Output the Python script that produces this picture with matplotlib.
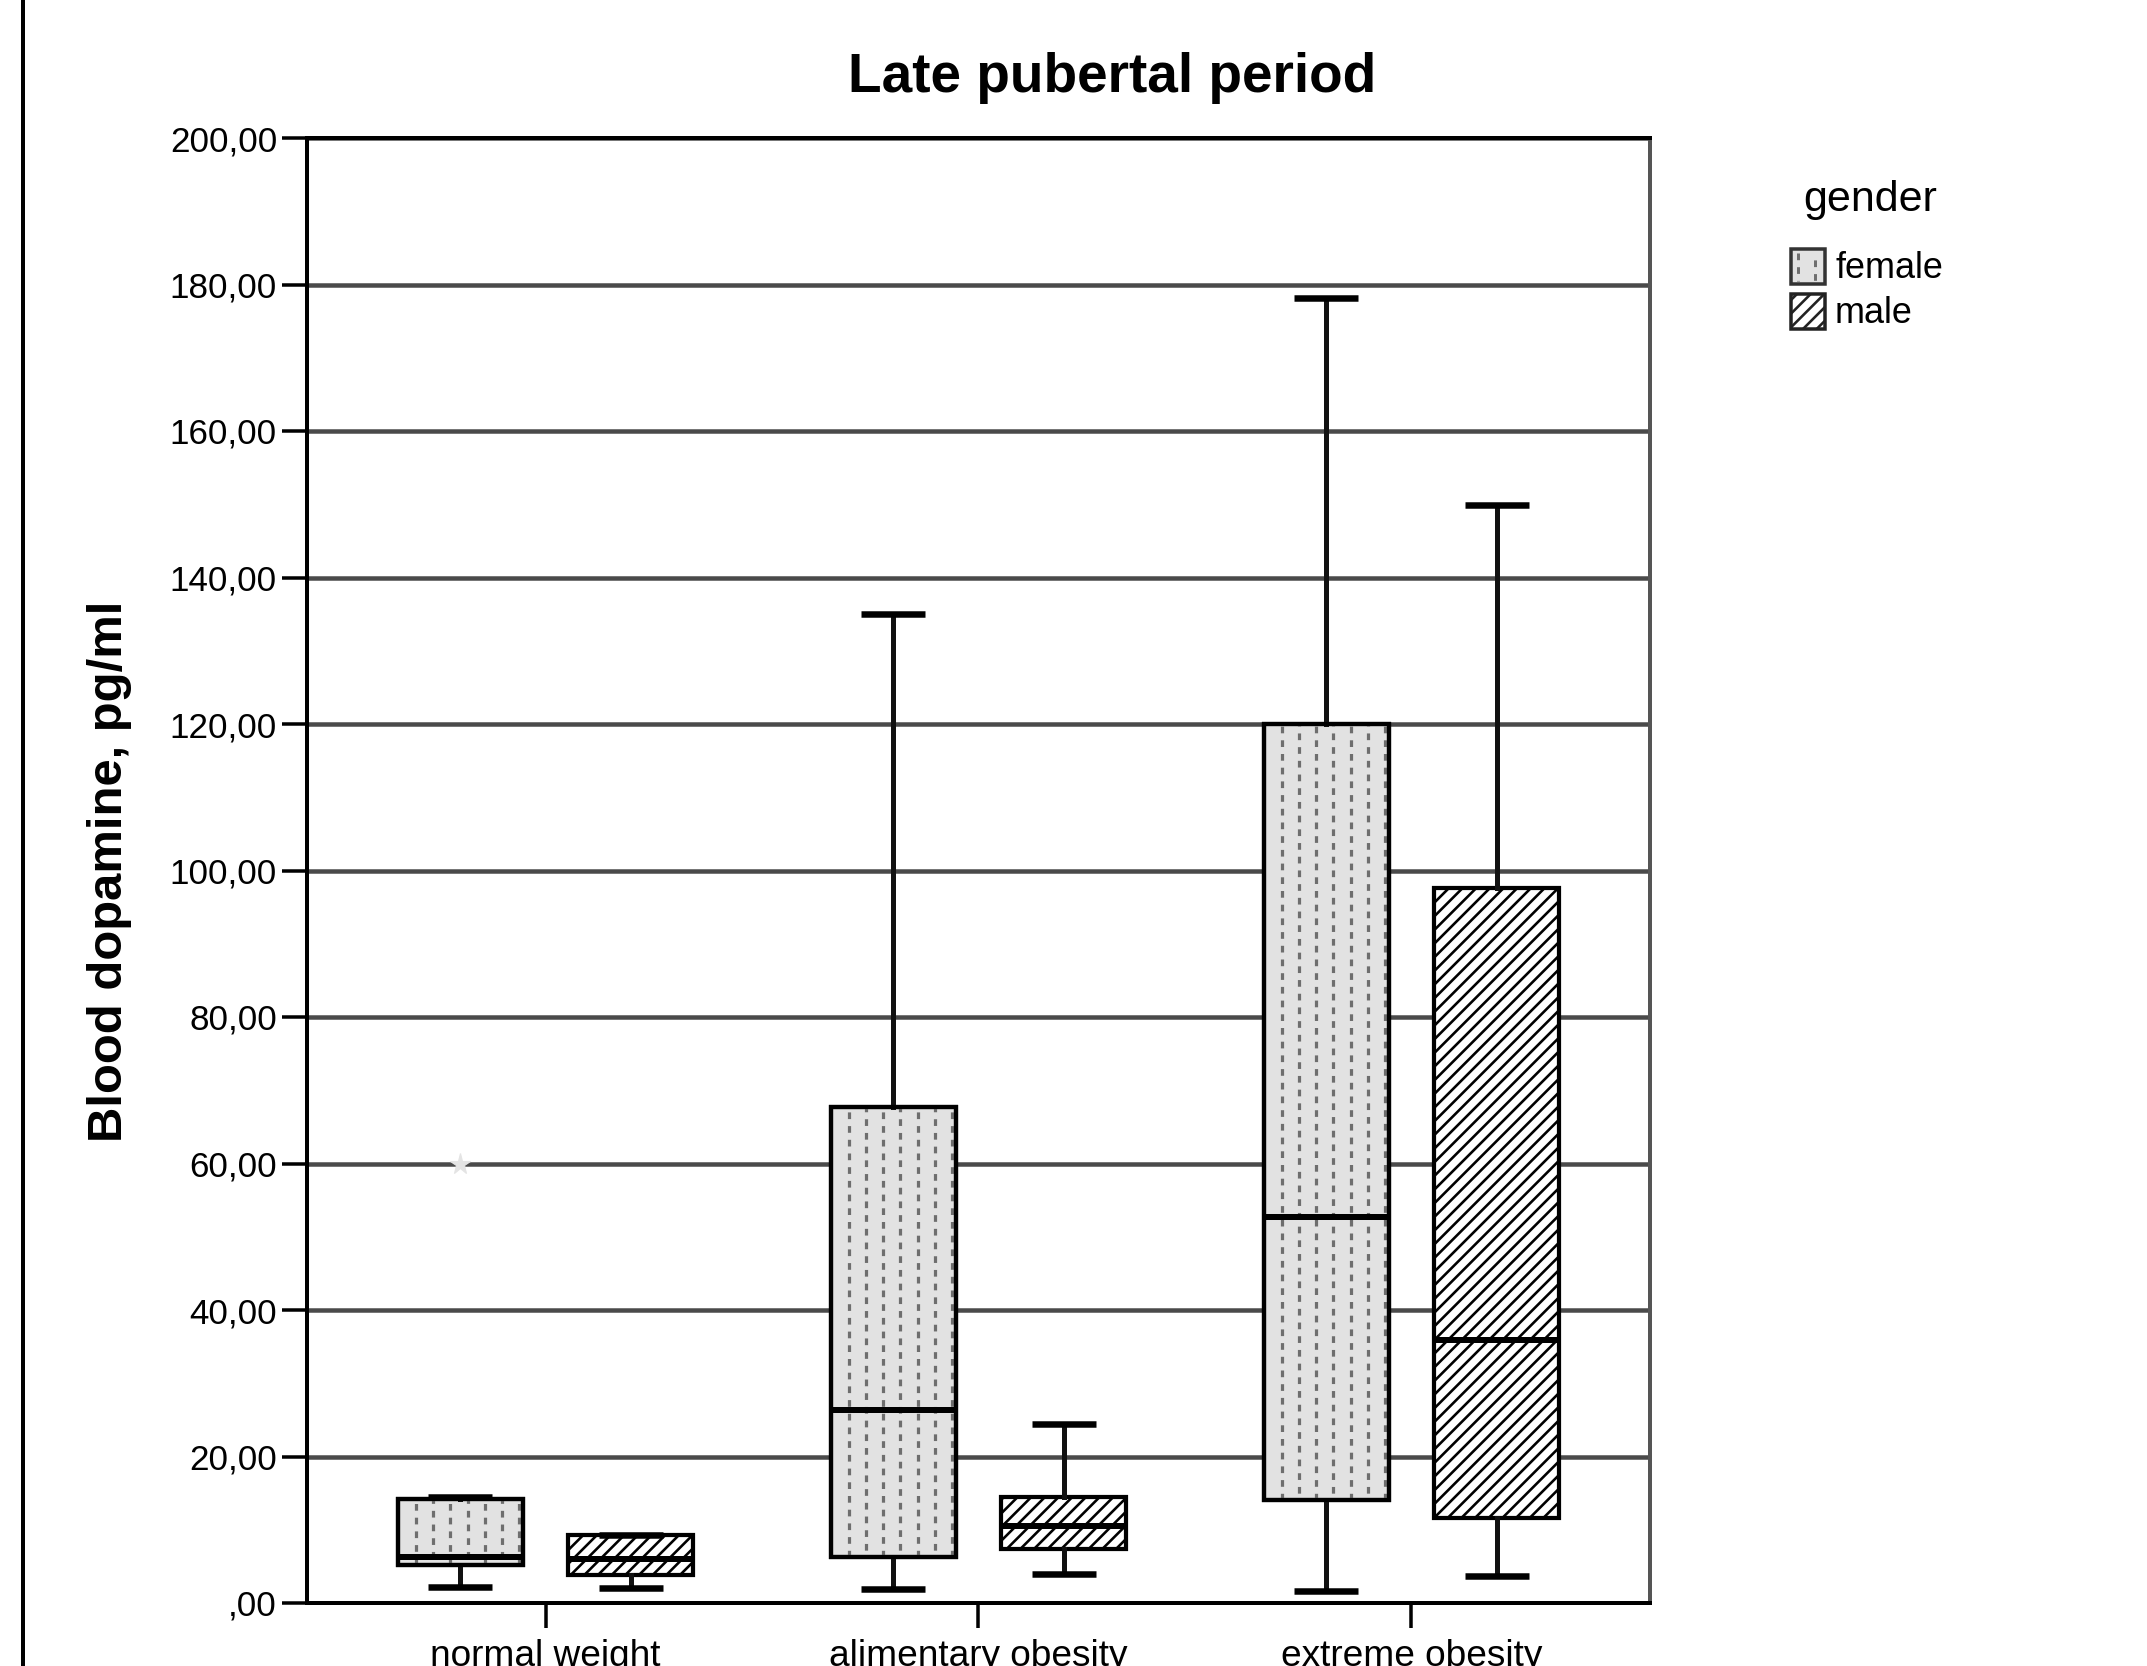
import matplotlib
matplotlib.use('Agg')
import matplotlib.pyplot as plt
from matplotlib.patches import Rectangle, PathPatch
import numpy as np

# ---------------- data ----------------
categories = ['normal weight', 'alimentary obesity', 'extreme obesity']
female_whislo = [2.2, 1.95, 1.7]
female_q1 = [5.2, 6.3, 14.0]
female_med = [6.3, 26.3, 52.7]
female_q3 = [14.2, 67.7, 120.0]
female_whishi = [14.5, 135.0, 178.1]
female_outliers = [[60.0], [], []]
male_whislo = [2.1, 4.0, 3.7]
male_q1 = [3.8, 7.4, 11.6]
male_med = [6.0, 10.5, 35.9]
male_q3 = [9.3, 14.5, 97.6]
male_whishi = [9.3, 24.5, 149.9]
male_outliers = [[], [], []]
yticks = [0, 20, 40, 60, 80, 100, 120, 140, 160, 180, 200]
ytick_labels = [',00', '20,00', '40,00', '60,00', '80,00', '100,00',
                '120,00', '140,00', '160,00', '180,00', '200,00']
legend_title = 'gender'
legend_labels = ['female', 'male']

# ---------------- figure setup ----------------
W, H = 2147, 1666
DPI = 82


def pt(px):
    return px * 72.0 / DPI


plt.rcParams['font.family'] = ['Liberation Sans', 'DejaVu Sans']
plt.rcParams['hatch.linewidth'] = pt(2.6)
plt.rcParams['lines.scale_dashes'] = False

fig = plt.figure(figsize=(W / DPI, H / DPI), dpi=DPI)
fig.patch.set_facecolor('white')

ax = fig.add_axes([307 / W, 1 - 1603 / H, (1650 - 307) / W, (1603 - 138) / H])

OFF = 0.197
BW = 0.289
CAPW = 0.148
xs = np.arange(len(categories))


def make_stats(lo, q1, med, q3, hi, fl):
    return [dict(whislo=a, q1=b, med=c, q3=d, whishi=e, fliers=f)
            for a, b, c, d, e, f in zip(lo, q1, med, q3, hi, fl)]


common = dict(widths=BW, capwidths=CAPW, patch_artist=True, showfliers=True,
              medianprops=dict(color='black', linewidth=pt(6), zorder=6,
                               solid_capstyle='butt'),
              whiskerprops=dict(color='#111111', linewidth=pt(5)),
              capprops=dict(color='black', linewidth=pt(6.5),
                            solid_capstyle='butt'),
              flierprops=dict(marker='*', markerfacecolor='#e4e4e4',
                              markeredgecolor='#e4e4e4', markersize=pt(22)),
              zorder=3)

fstats = make_stats(female_whislo, female_q1, female_med, female_q3,
                    female_whishi, female_outliers)
mstats = make_stats(male_whislo, male_q1, male_med, male_q3,
                    male_whishi, male_outliers)

fb = ax.bxp(fstats, positions=xs - OFF,
            boxprops=dict(facecolor='#e2e2e2', edgecolor='black',
                          linewidth=pt(4.2)), **common)
mb = ax.bxp(mstats, positions=xs + OFF,
            boxprops=dict(facecolor='white', edgecolor='black',
                          linewidth=pt(4.2), hatch='//'), **common)

# staggered vertical dashed pattern in female boxes
px_per_x = 433.3
DASH_ON, DASH_OFF = 6.7, 7.0
for i, box in enumerate(fb['boxes']):
    left = xs[i] - OFF - BW / 2
    right = xs[i] - OFF + BW / 2
    for k, xv in enumerate(np.arange(left + 18 / px_per_x, right,
                                     17.3 / px_per_x)):
        off = 0 if k % 2 == 0 else (DASH_ON + DASH_OFF) / 2
        ln, = ax.plot([xv, xv], [female_q1[i], female_q3[i]], color='#6e6e6e',
                      lw=pt(3.2),
                      linestyle=(pt(off), (pt(DASH_ON), pt(DASH_OFF))),
                      solid_capstyle='butt', dash_capstyle='butt', zorder=4)
        ln.set_clip_path(box)
    edge = PathPatch(box.get_path(), transform=box.get_transform(),
                     fill=False, edgecolor='black', lw=pt(4.2), zorder=5)
    ax.add_patch(edge)

# axes styling
ax.set_xlim(-0.551, 2.551)
ax.set_ylim(0, 200)
ax.set_yticks(yticks)
ax.set_yticklabels(ytick_labels)
ax.set_xticks(xs)
ax.set_xticklabels(categories)
ax.set_axisbelow(True)
ax.yaxis.grid(True, color='#4a4a4a', linewidth=pt(4.5))
ax.xaxis.grid(False)
for s in ax.spines.values():
    s.set_linewidth(pt(4))
    s.set_color('black')
ax.spines['right'].set_color('#555555')
ax.tick_params(axis='both', length=pt(25), width=pt(3.5), direction='out',
               color='black', labelsize=pt(35), labelcolor='black')
ax.tick_params(axis='y', pad=pt(5))
ax.tick_params(axis='x', pad=pt(11), labelsize=pt(37))

# title and y label
fig.text(1112 / W, 1 - 78 / H, 'Late pubertal period', ha='center',
         va='center', fontsize=pt(55), fontweight='bold')
fig.text(110 / W, 1 - 871 / H, 'Blood dopamine, pg/ml', ha='center',
         va='center', rotation=90, fontsize=pt(49), fontweight='bold')

# overlay for legend and border
lax = fig.add_axes([0, 0, 1, 1])
lax.set_xlim(0, W)
lax.set_ylim(H, 0)
lax.axis('off')
lax.plot([23, 23], [0, H], color='black', lw=pt(4))

lax.text(1870, 200, legend_title, ha='center', va='center', fontsize=pt(43))
lax.add_patch(Rectangle((1791, 249), 34, 35, facecolor='#e2e2e2',
                        edgecolor='#333333', lw=pt(3.5)))
for k, xv in enumerate((1798, 1815)):
    lax.plot([xv, xv], [253, 281], color='#6e6e6e', lw=pt(3),
             linestyle=(pt(0 if k == 0 else 6.8), (pt(6.7), pt(7.0))))
lax.add_patch(Rectangle((1791, 294), 34, 35, facecolor='white',
                        edgecolor='#222222', lw=pt(3.5), hatch='//'))
lax.text(1835, 268, legend_labels[0], ha='left', va='center', fontsize=pt(36))
lax.text(1835, 313, legend_labels[1], ha='left', va='center', fontsize=pt(36))

fig.savefig('out.png', dpi=DPI, facecolor='white')
